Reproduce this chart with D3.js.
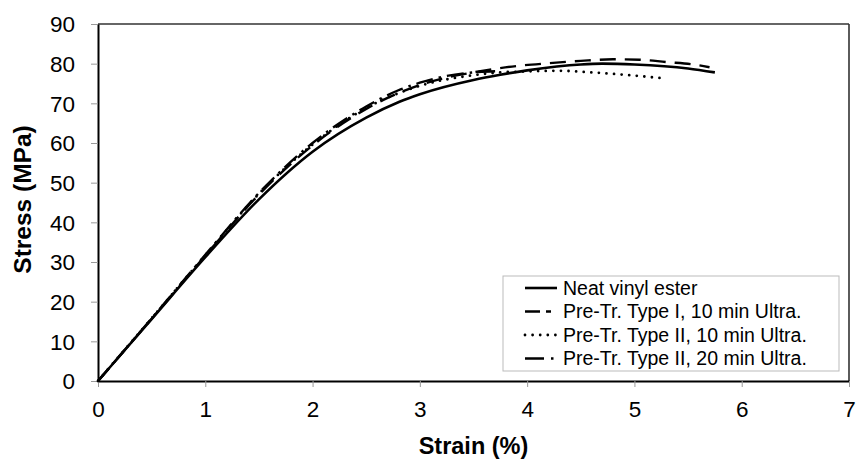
<!DOCTYPE html>
<html>
<head>
<meta charset="utf-8">
<script src="https://cdn.jsdelivr.net/npm/d3@7"></script>
<style>
  html, body { margin: 0; padding: 0; background: #fff; }
  svg { display: block; }
  text { font-family: "Liberation Sans", Arial, sans-serif; fill: #000; }
</style>
</head>
<body>
<svg id="chart" width="856" height="463"></svg>
<script>
// ---- Data ----
const seriesNames = [
  "Neat vinyl ester",
  "Pre-Tr. Type I, 10 min Ultra.",
  "Pre-Tr. Type II, 10 min Ultra.",
  "Pre-Tr. Type II, 20 min Ultra."
];
const neatStrain   = [0, 0.5, 1, 1.5, 2, 2.5, 2.81, 3, 3.5, 3.75, 4, 4.5, 4.7, 5, 5.5, 5.75];
const neatStress   = [0, 15.6, 31.2, 45.8, 57.8, 66.4, 70.4, 72.3, 75.9, 77.2, 78.3, 79.8, 80.0, 79.8, 78.8, 77.8];
const typeI10Strain = [0, 0.5, 1, 1.5, 2, 2.5, 3, 3.25, 3.5, 3.9, 4.2, 4.5, 4.8, 5.05, 5.3, 5.55, 5.7];
const typeI10Stress = [0, 15.7, 31.6, 47.0, 59.4, 68.6, 74.6, 76.5, 77.8, 79.4, 80.1, 80.7, 81.1, 81.0, 80.4, 79.8, 79.1];
const typeII10Strain = [0, 0.5, 1, 1.5, 2, 2.5, 3, 3.5, 3.75, 3.95, 4.3, 4.6, 4.95, 5.27];
const typeII10Stress = [0, 15.8, 31.7, 47.2, 59.6, 68.8, 74.4, 77.1, 77.8, 78.0, 78.2, 77.8, 77.1, 76.3];
const typeII20Strain = [0, 0.5, 1, 1.5, 2, 2.5, 2.8, 3, 3.25, 3.5, 3.72];
const typeII20Stress = [0, 15.8, 31.8, 47.4, 60.0, 69.2, 73.3, 75.2, 76.9, 77.8, 78.1];
const xTicks = [0, 1, 2, 3, 4, 5, 6, 7];
const yTicks = [0, 10, 20, 30, 40, 50, 60, 70, 80, 90];
const xTitle = "Strain (%)";
const yTitle = "Stress (MPa)";

const series = [
  { name: seriesNames[0], x: neatStrain, y: neatStress, dash: null, legDash: null, cap: "butt", w: 2.6 },
  { name: seriesNames[1], x: typeI10Strain, y: typeI10Stress, dash: "16,9", legDash: "15,6,5,20", cap: "butt", w: 2.4 },
  { name: seriesNames[2], x: typeII10Strain, y: typeII10Stress, dash: "0,7.6", legDash: "0,7.6", cap: "round", w: 2.8 },
  { name: seriesNames[3], x: typeII20Strain, y: typeII20Stress, dash: "17,6,2.5,6", legDash: "19,7,2.5,20", cap: "butt", w: 2.4 }
];

// ---- Layout ----
const svg = d3.select("#chart");
const pLeft = 98, pTop = 24, pRight = 849, pBottom = 381;
const x = d3.scaleLinear().domain([0, 7]).range([pLeft, pRight]);
const y = d3.scaleLinear().domain([0, 90]).range([pBottom, pTop]);

// plot frame (top & right)
svg.append("line").attr("x1", pLeft).attr("x2", pRight).attr("y1", pTop).attr("y2", pTop)
  .attr("stroke", "#333").attr("stroke-width", 1.6);
svg.append("line").attr("x1", pRight).attr("x2", pRight).attr("y1", pTop).attr("y2", pBottom)
  .attr("stroke", "#333").attr("stroke-width", 1.6);

// axes
const xAxis = svg.append("g").attr("transform", `translate(0,${pBottom})`)
  .call(d3.axisBottom(x).tickValues(xTicks).tickFormat(d3.format("d")).tickSizeInner(6).tickSizeOuter(0).tickPadding(8));
const yAxis = svg.append("g").attr("transform", `translate(${pLeft},0)`)
  .call(d3.axisLeft(y).tickValues(yTicks).tickFormat(d3.format("d")).tickSizeInner(7).tickSizeOuter(0).tickPadding(16));

[xAxis, yAxis].forEach(g => {
  g.select(".domain").attr("stroke", "#000").attr("stroke-width", 2);
  g.selectAll(".tick line").attr("stroke", "#999").attr("stroke-width", 1);
  g.selectAll(".tick text").style("font-size", "22.5px").style("font-family", "'Liberation Sans', Arial, sans-serif").attr("fill", "#000");
});
xAxis.selectAll(".tick text").attr("y", 28).attr("dy", "0.35em");
yAxis.selectAll(".tick text").attr("dy", "0.35em");

// axis titles
svg.append("text").attr("x", (pLeft + pRight) / 2).attr("y", 446).attr("dy", "0.35em")
  .attr("text-anchor", "middle").style("font-size", "23.5px").style("font-weight", "bold").text(xTitle);
svg.append("text").attr("transform", `translate(22,${(pTop + pBottom) / 2 - 3}) rotate(-90)`).attr("dy", "0.35em")
  .attr("text-anchor", "middle").style("font-size", "24.5px").style("font-weight", "bold").text(yTitle);

// lines
const line = d3.line().x(d => x(d[0])).y(d => y(d[1])).curve(d3.curveMonotoneX);
series.forEach(s => {
  const pts = s.x.map((v, i) => [v, s.y[i]]);
  svg.append("path").datum(pts).attr("d", line)
    .attr("fill", "none").attr("stroke", "#000").attr("stroke-width", s.w)
    .attr("stroke-dasharray", s.dash).attr("stroke-linecap", s.cap).attr("stroke-linejoin", "round");
});

// legend
const lg = svg.append("g");
lg.append("rect").attr("x", 503).attr("y", 276).attr("width", 336).attr("height", 95)
  .attr("fill", "#fff").attr("stroke", "#bbb").attr("stroke-width", 1);
const rowY = [288, 311.5, 335, 358.5];
series.forEach((s, i) => {
  lg.append("line").attr("x1", 525).attr("x2", 557).attr("y1", rowY[i]).attr("y2", rowY[i])
    .attr("stroke", "#000").attr("stroke-width", s.w)
    .attr("stroke-dasharray", s.legDash).attr("stroke-linecap", s.cap);
  lg.append("text").attr("x", 563).attr("y", rowY[i]).attr("dy", "0.35em")
    .style("font-size", "19.5px").text(s.name);
});
</script>
</body>
</html>
